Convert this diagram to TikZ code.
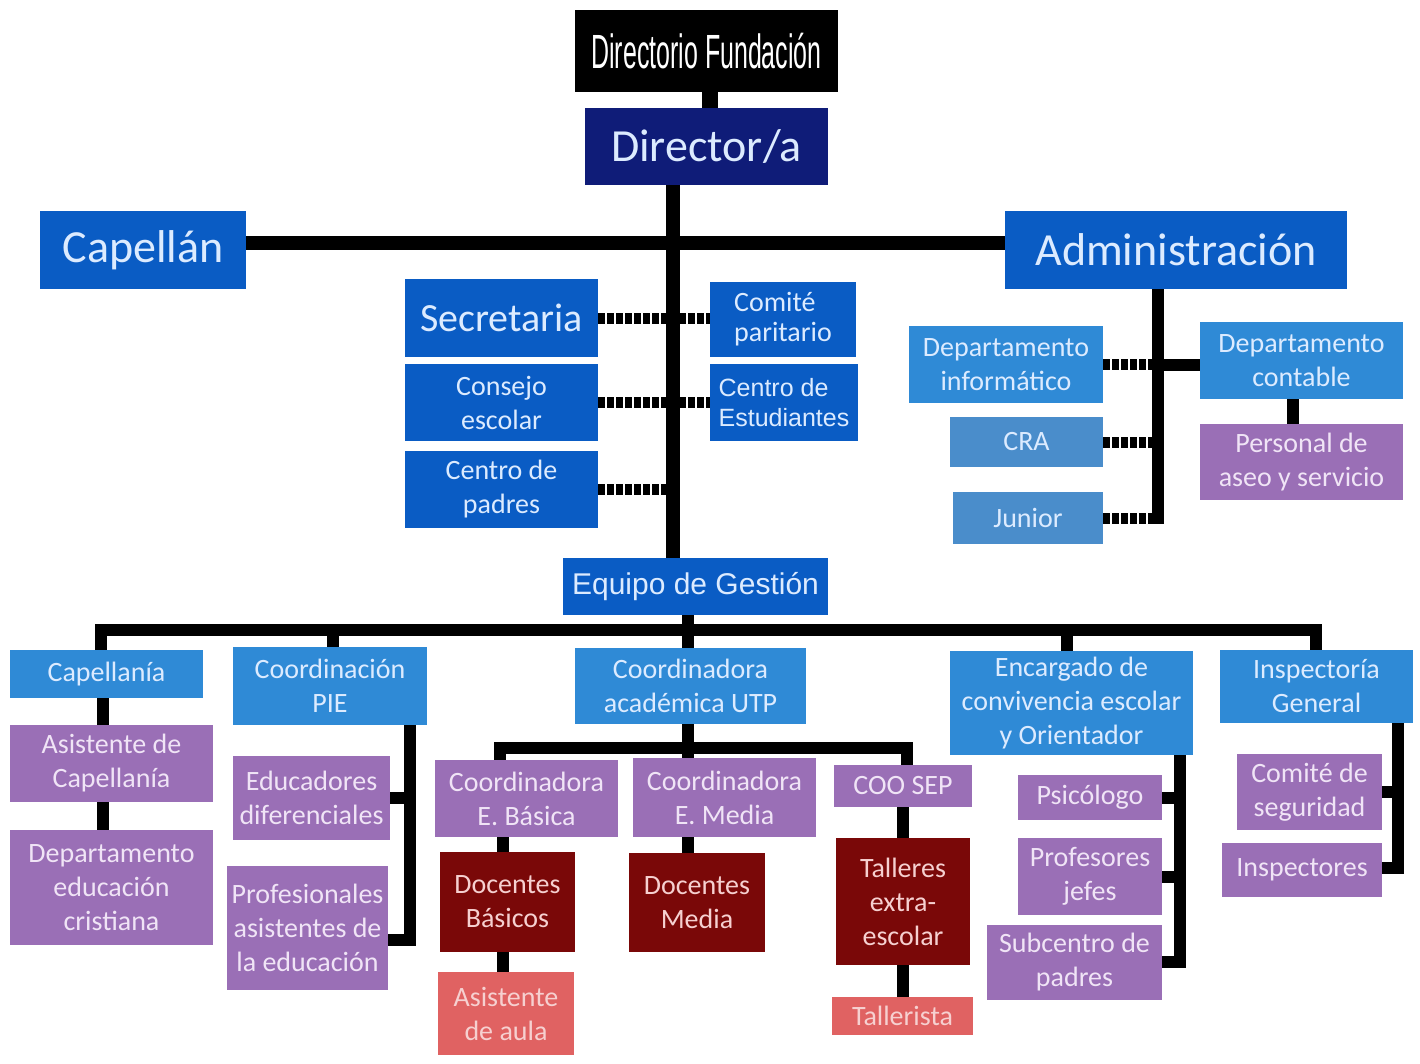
\documentclass[tikz,border=0pt]{standalone}
\usepackage{fontspec}
\usepackage{graphicx}
\setmainfont{Carlito}
\newfontfamily\arialf{Liberation Sans}
\definecolor{cNavy}{HTML}{0F1C78}
\definecolor{cRoyal}{HTML}{0A5CC4}
\definecolor{cLight}{HTML}{2F8AD6}
\definecolor{cSteel}{HTML}{4A8DCB}
\definecolor{cPurp}{HTML}{9A6FB6}
\definecolor{cDRed}{HTML}{7A0808}
\definecolor{cSalm}{HTML}{E06262}
\definecolor{tBlue}{HTML}{DCEBFF}
\definecolor{tPurp}{HTML}{F0E4F6}
\definecolor{tRed}{HTML}{F6D0D0}
\pgfdeclarelayer{bg}
\pgfsetlayers{bg,main}
\newcommand\obox[7]{\node[#6,minimum width={(#4)-(#2)},minimum height={(#5)-(#3)}] (#1) at ({((#2)+(#4))/2},{((#3)+(#5))/2}) {#7};}
\begin{document}
\begin{tikzpicture}[x=1pt,y=-1pt,
  box/.style={inner sep=0pt, align=center, font=\fontsize{28}{34}\selectfont},
  blackb/.style={box, fill=black, text=white},
  navyb/.style={box, fill=cNavy, text=tBlue},
  royalb/.style={box, fill=cRoyal, text=tBlue},
  lightb/.style={box, fill=cLight, text=tBlue},
  steelb/.style={box, fill=cSteel, text=tBlue},
  purpb/.style={box, fill=cPurp, text=tPurp},
  redb/.style={box, fill=cDRed, text=tRed},
  salmb/.style={box, fill=cSalm, text=tRed},
  conn/.style={line width=14pt, black},
  conn2/.style={line width=12pt, black},
  dsh/.style={line width=11pt, black, dash pattern=on 7pt off 2pt}]
\useasboundingbox (0,0) rectangle (1420,1064);
% top
\obox{dirf}{575}{10}{838}{92}{blackb}{\scalebox{0.52}[1]{\arialf\fontsize{48}{50}\selectfont Directorio Fundación}}
\obox{dir}{585}{108}{828}{185}{navyb,font=\fontsize{46}{50}\selectfont}{Director/a}
\obox{cap}{40}{211}{246}{289}{royalb,font=\fontsize{46}{50}\selectfont}{Capellán}
\obox{adm}{1005}{211}{1347}{289}{royalb,font=\fontsize{46}{50}\selectfont}{Administración}
% middle left
\obox{sec}{405}{279}{598}{357}{royalb,font=\fontsize{40}{44}\selectfont}{Secretaria}
\obox{cons}{405}{364}{598}{441}{royalb}{Consejo\\escolar}
\obox{cpad}{405}{451}{598}{528}{royalb}{Centro de\\padres}
\obox{comi}{710}{282}{856}{357}{royalb,align=left,font=\fontsize{28}{30}\selectfont}{Comité\\paritario}
\obox{cest}{710}{364}{858}{441}{royalb,align=left,font=\arialf\fontsize{25}{30}\selectfont}{Centro de\\Estudiantes}
% admin
\obox{dinf}{909}{326}{1103}{403}{lightb}{Departamento\\informático}
\obox{dcon}{1200}{322}{1403}{399}{lightb}{Departamento\\contable}
\obox{pers}{1200}{424}{1403}{500}{purpb}{Personal de\\aseo y servicio}
\obox{cra}{950}{417}{1103}{467}{steelb}{CRA}
\obox{jun}{953}{492}{1103}{544}{steelb}{Junior}
% equipo
\obox{eq}{563}{558}{828}{615}{royalb,font=\arialf\fontsize{30}{34}\selectfont}{Equipo de Gestión}
% capellania
\obox{capa}{10}{650}{203}{698}{lightb}{Capellanía}
\obox{asc}{10}{725}{213}{802}{purpb}{Asistente de\\Capellanía}
\obox{dec}{10}{830}{213}{945}{purpb}{Departamento\\educación\\cristiana}
% PIE
\obox{pie}{233}{647}{427}{725}{lightb}{Coordinación\\PIE}
\obox{edu}{233}{756}{390}{840}{purpb}{Educadores\\diferenciales}
\obox{prof}{227}{866}{388}{990}{purpb}{Profesionales\\asistentes de\\la educación}
% UTP
\obox{utp}{575}{648}{806}{724}{lightb}{Coordinadora\\académica UTP}
\obox{ceb}{435}{760}{618}{837}{purpb}{Coordinadora\\E. Básica}
\obox{cem}{633}{758}{816}{837}{purpb}{Coordinadora\\E. Media}
\obox{coosep}{834}{765}{972}{807}{purpb}{COO SEP}
\obox{docb}{440}{852}{575}{952}{redb}{Docentes\\Básicos}
\obox{docm}{629}{853}{765}{952}{redb}{Docentes\\Media}
\obox{tall}{836}{838}{970}{965}{redb}{Talleres\\extra-\\escolar}
\obox{asis}{438}{972}{574}{1055}{salmb}{Asistente\\de aula}
\obox{talr}{832}{997}{973}{1035}{salmb}{Tallerista}
% convivencia
\obox{enc}{950}{651}{1193}{755}{lightb}{Encargado de\\convivencia escolar\\y Orientador}
\obox{psi}{1018}{775}{1162}{820}{purpb}{Psicólogo}
\obox{pj}{1018}{838}{1162}{915}{purpb}{Profesores\\jefes}
\obox{sub}{987}{925}{1162}{1000}{purpb}{Subcentro de\\padres}
% inspectoria
\obox{insp}{1220}{650}{1413}{723}{lightb}{Inspectoría\\General}
\obox{cseg}{1237}{754}{1382}{830}{purpb}{Comité de\\seguridad}
\obox{inspr}{1222}{843}{1382}{897}{purpb}{Inspectores}
% connectors
\coordinate (dd) at (710,0);
\coordinate (tr) at (673,243);
\coordinate (ta) at (1158,0);
\coordinate (tp) at (1293,0);
\coordinate (b1) at (101,630);
\coordinate (b2) at (333,630);
\coordinate (b3) at (688,630);
\coordinate (b4) at (1067,630);
\coordinate (b5) at (1316,630);
\coordinate (c1) at (103,0);
\coordinate (p1) at (410,940);
\coordinate (u1) at (500,748);
\coordinate (u2) at (688,748);
\coordinate (u3) at (907,748);
\coordinate (u4) at (503,0);
\coordinate (u5) at (903,0);
\coordinate (e1) at (1180,962);
\coordinate (i1) at (1398,868);
\begin{pgfonlayer}{bg}
\draw[conn,line width=16pt] (dirf.south -| dd) -- (dir.north -| dd);
\draw[conn] (dir.south -| tr) -- (eq.north -| tr);
\draw[conn] (cap.east |- tr) -- (adm.west |- tr);
\draw[dsh] (sec.east) -- (sec.east -| comi.west);
\draw[dsh] (cons.east) -- (cons.east -| cest.west);
\draw[dsh] (cpad.east) -- (cpad.east -| tr);
\draw[conn,line width=12pt] (adm.south -| ta) -- ([yshift=-6pt]jun.east -| ta);
\draw[dsh] (dinf.east) -- (dinf.east -| ta);
\draw[conn,line width=12pt] (dinf.east -| ta) -- (dinf.east -| dcon.west);
\draw[dsh] (cra.east) -- (cra.east -| ta);
\draw[dsh] (jun.east) -- (jun.east -| ta);
\draw[conn2] (dcon.south -| tp) -- (pers.north -| tp);
\draw[conn2] (capa.north -| b1) -- (b1) -- (b5) -- (insp.north -| b5);
\draw[conn2] (eq.south -| b3) -- (utp.north -| b3);
\draw[conn2] (b2) -- (pie.north -| b2);
\draw[conn2] (b4) -- (enc.north -| b4);
\draw[conn2] (capa.south -| c1) -- (dec.north -| c1);
\draw[conn2] (pie.south -| p1) -- (p1) -- (p1 -| prof.east);
\draw[conn2] (edu.east) -- (edu.east -| p1);
\draw[conn2] (utp.south -| u2) -- (cem.north -| u2);
\draw[conn2] (ceb.north -| u1) -- (u1) -- (u3) -- (coosep.north -| u3);
\draw[conn2] (ceb.south -| u4) -- (asis.north -| u4);
\draw[conn2] (cem.south -| u2) -- (docm.north -| u2);
\draw[conn2] (coosep.south -| u5) -- (talr.north -| u5);
\draw[conn2] (enc.south -| e1) -- (e1) -- (e1 -| sub.east);
\draw[conn2] (psi.east) -- (psi.east -| e1);
\draw[conn2] (pj.east) -- (pj.east -| e1);
\draw[conn2] (insp.south -| i1) -- (i1) -- (i1 -| inspr.east);
\draw[conn2] (cseg.east) -- (cseg.east -| i1);
\end{pgfonlayer}
\end{tikzpicture}
\end{document}
